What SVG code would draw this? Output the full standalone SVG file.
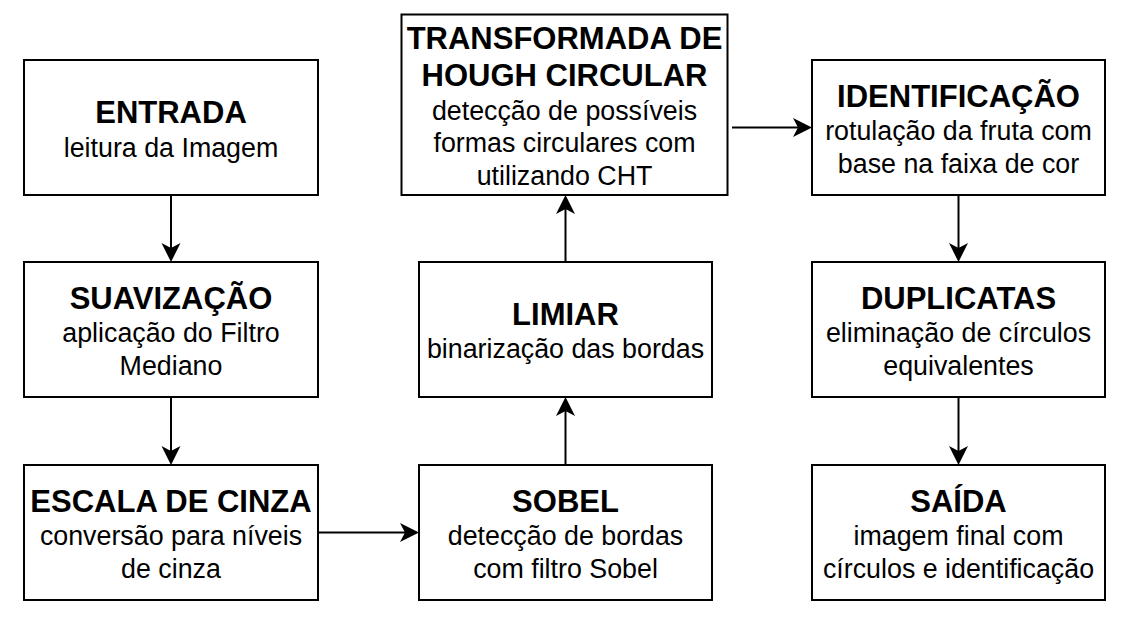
<svg xmlns="http://www.w3.org/2000/svg" width="1130" height="622" viewBox="0 0 1130 622">
<defs>
<style>
.box{fill:#fff;stroke:#000;stroke-width:2}
.t{font-family:"Liberation Sans",Arial,sans-serif;font-weight:bold;font-size:31px;text-anchor:middle;fill:#000}
.s{font-family:"Liberation Sans",Arial,sans-serif;font-size:26.8px;text-anchor:middle;fill:#000}
.c{fill:none;stroke:#000;stroke-width:2}
</style>
<marker id="arr" markerUnits="userSpaceOnUse" markerWidth="22" markerHeight="22" refX="5" refY="9.5" orient="auto">
<path d="M0,0 L19,9.5 L0,19 L5,9.5 Z" fill="#000"/>
</marker>
</defs>
<rect width="1130" height="622" fill="#fff"/>
<g id="connectors">
<line class="c" x1="171" y1="195" x2="171" y2="248" marker-end="url(#arr)"/>
<line class="c" x1="171" y1="397" x2="171" y2="451" marker-end="url(#arr)"/>
<line class="c" x1="318" y1="532.5" x2="405" y2="532.5" marker-end="url(#arr)"/>
<line class="c" x1="565.5" y1="465" x2="565.5" y2="411" marker-end="url(#arr)"/>
<line class="c" x1="565.5" y1="262" x2="565.5" y2="209" marker-end="url(#arr)"/>
<line class="c" x1="732" y1="127.5" x2="798" y2="127.5" marker-end="url(#arr)"/>
<line class="c" x1="958.5" y1="195" x2="958.5" y2="248" marker-end="url(#arr)"/>
<line class="c" x1="958.5" y1="397" x2="958.5" y2="451" marker-end="url(#arr)"/>
</g>
<g id="entrada">
<rect class="box" x="24" y="60" width="294" height="135"/>
<text class="t" x="171" y="123">ENTRADA</text>
<text class="s" x="171" y="157">leitura da Imagem</text>
</g>
<g id="suavizacao">
<rect class="box" x="24" y="262" width="294" height="135"/>
<text class="t" x="171" y="309">SUAVIZAÇÃO</text>
<text class="s" x="171" y="342">aplicação do Filtro</text>
<text class="s" x="171" y="375">Mediano</text>
</g>
<g id="escala">
<rect class="box" x="24" y="465" width="294" height="135"/>
<text class="t" x="171" y="512">ESCALA DE CINZA</text>
<text class="s" x="171" y="545">conversão para níveis</text>
<text class="s" x="171" y="578">de cinza</text>
</g>
<g id="sobel">
<rect class="box" x="419" y="465" width="293" height="135"/>
<text class="t" x="565.5" y="512">SOBEL</text>
<text class="s" x="565.5" y="545">detecção de bordas</text>
<text class="s" x="565.5" y="578">com filtro Sobel</text>
</g>
<g id="limiar">
<rect class="box" x="419" y="262" width="293" height="135"/>
<text class="t" x="565.5" y="325">LIMIAR</text>
<text class="s" x="565.5" y="358">binarização das bordas</text>
</g>
<g id="transformada">
<rect class="box" x="401.5" y="14.5" width="326" height="180.5"/>
<text class="t" x="564.5" y="49">TRANSFORMADA DE</text>
<text class="t" x="564.5" y="86">HOUGH CIRCULAR</text>
<text class="s" x="564.5" y="120">detecção de possíveis</text>
<text class="s" x="564.5" y="152">formas circulares com</text>
<text class="s" x="564.5" y="185">utilizando CHT</text>
</g>
<g id="identificacao">
<rect class="box" x="812" y="60" width="293" height="135"/>
<text class="t" x="958.5" y="107">IDENTIFICAÇÃO</text>
<text class="s" x="958.5" y="140">rotulação da fruta com</text>
<text class="s" x="958.5" y="173">base na faixa de cor</text>
</g>
<g id="duplicatas">
<rect class="box" x="812" y="262" width="293" height="135"/>
<text class="t" x="958.5" y="309">DUPLICATAS</text>
<text class="s" x="958.5" y="342">eliminação de círculos</text>
<text class="s" x="958.5" y="375">equivalentes</text>
</g>
<g id="saida">
<rect class="box" x="812" y="465" width="293" height="135"/>
<text class="t" x="958.5" y="512">SAÍDA</text>
<text class="s" x="958.5" y="545">imagem final com</text>
<text class="s" x="958.5" y="578">círculos e identificação</text>
</g>
</svg>
